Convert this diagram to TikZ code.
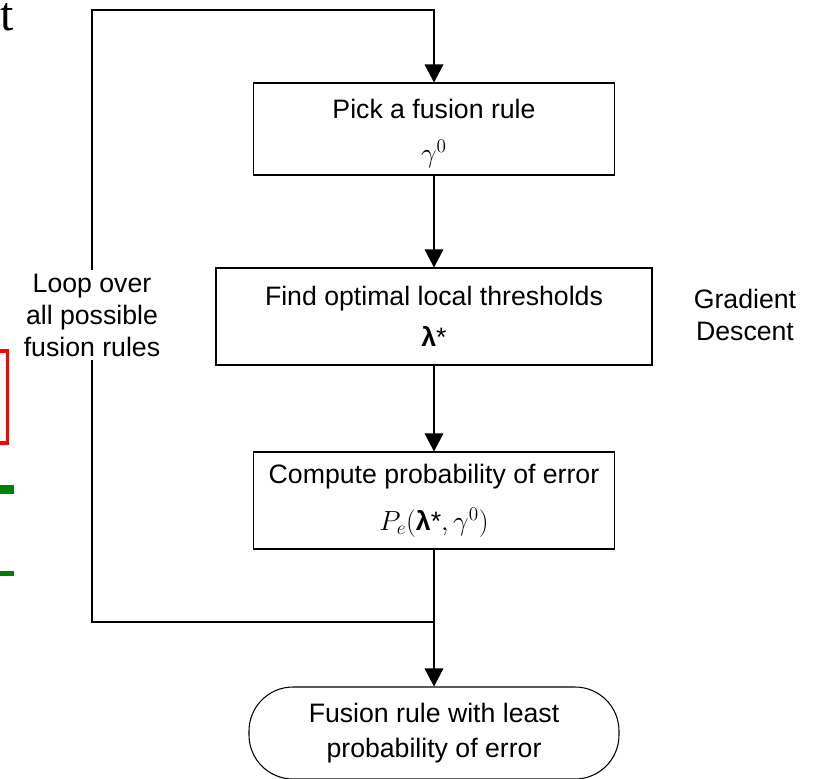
\documentclass[tikz,border=0pt]{standalone}
\usepackage{fontspec}
\setmainfont{Liberation Sans}
\newfontfamily\fragserif{Liberation Serif}
\usetikzlibrary{arrows.meta}

\begin{document}
\begin{tikzpicture}[x=0.75pt,y=-0.75pt,
  every node/.style={font=\fontsize{20}{24}\selectfont, align=center, inner sep=0pt},
  stepbox/.style={draw, line width=0.8pt, minimum width=#1},
  stepbox/.default=270.75pt,
  endbox/.style={draw, line width=0.8pt, rounded corners=33pt, minimum width=277.5pt, minimum height=69pt},
  flow/.style={line width=0.8pt},
  arr/.style={flow, -{Triangle[width=14pt,length=13.5pt]}},
  ]
\useasboundingbox (0,0) rectangle (813,778);

% fragments at the left margin
\node[anchor=base west, font=\fragserif\fontsize{36}{40}\selectfont] (tfrag) at (0.5,31) {t};
\draw[red, line width=2.4pt] (-60,351) rectangle (7.5,443);
\draw[green!50!black, line width=6.5pt] (-40,489.5) -- (14,489.5);
\draw[green!50!black, line width=4pt] (-40,573.5) -- (14,573.5);

% process steps
\node[stepbox, minimum height=69pt] (pick) at (434,129)
  {\rule{0pt}{22pt}Pick a fusion rule\\[9pt]$\gamma^0$};
\node[stepbox=327pt, minimum height=72.75pt] (find) at (434,316.5)
  {Find optimal local thresholds\\[7pt]\textbf{λ}*};
\node[stepbox, minimum height=72.75pt] (perr) at (434,500.5)
  {Compute probability of error\\[11pt]$P_e(\mbox{\textbf{λ}*},\gamma^0)$};
\node[endbox] (best) at (434,733)
  {Fusion rule with least\\[2pt]probability of error};

% side labels
\node (gd) at (745,315) {Gradient\\Descent};

% loop path
\coordinate (jn) at (434,622);
\coordinate (lb) at (92,622);
\coordinate (lt) at (92,10);
\coordinate (rt) at (434,10);
\draw[arr] (jn) -- (lb) -- (lt) -- (rt) -- (pick.north);
\node[fill=white, inner sep=3pt] (loop) at (92,315) {Loop over\\all possible\\fusion rules};

% main flow
\draw[arr] (pick) -- (find);
\draw[arr] (find) -- (perr);
\draw[flow] (perr) -- (jn);
\draw[arr] (jn) -- (best);
\end{tikzpicture}
\end{document}
